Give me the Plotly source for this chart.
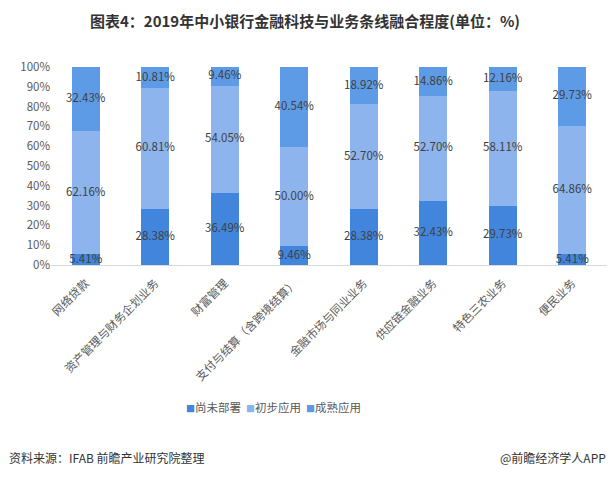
import plotly.graph_objects as go

categories = ["网络贷款", "资产管理与财务企划业务", "财富管理", "支付与结算（含跨境结算）",
              "金融市场与同业业务", "供应链金融业务", "特色三农业务", "便民业务"]
not_deployed = [5.41, 28.38, 36.49, 9.46, 28.38, 32.43, 29.73, 5.41]
initial_app = [62.16, 60.81, 54.05, 50.00, 52.70, 52.70, 58.11, 64.86]
mature_app = [32.43, 10.81, 9.46, 40.54, 18.92, 14.86, 12.16, 29.73]
series_names = ["尚未部署", "初步应用", "成熟应用"]
colors = ["#4285dc", "#8db4ec", "#5e9be6"]
yticks = [0, 10, 20, 30, 40, 50, 60, 70, 80, 90, 100]

FONT = "Noto Sans CJK SC, Microsoft YaHei, sans-serif"
W, H = 610, 478
L, R, T, B = 51, 3, 67, 213

fig = go.Figure()
series = [not_deployed, initial_app, mature_app]
for name, vals, c in zip(series_names, series, colors):
    fig.add_trace(go.Bar(x=categories, y=vals, name=name, marker_color=c,
                         marker_line_width=0, showlegend=False))

# data labels at segment midpoints
base = [0] * len(categories)
for vals in series:
    mids = [b + v / 2 for b, v in zip(base, vals)]
    fig.add_trace(go.Scatter(x=categories, y=mids, mode="text",
                             text=[f"{v:.2f}%" for v in vals],
                             textfont=dict(size=11.5, color="#404040", family=FONT),
                             showlegend=False, hoverinfo="skip"))
    base = [b + v for b, v in zip(base, vals)]

fig.update_layout(
    width=W, height=H,
    margin=dict(l=L, r=R, t=T, b=B),
    barmode="stack", bargap=0.6,
    plot_bgcolor="white", paper_bgcolor="white",
    font=dict(family=FONT, color="#595959", size=11),
    showlegend=False,
    title=dict(text="<b>图表4：2019年中小银行金融科技与业务条线融合程度(单位：%)</b>",
               x=0.5, xref="container", xanchor="center",
               y=1 - 22 / H, yref="container", yanchor="middle",
               font=dict(size=15, color="#333333", family=FONT)),
    xaxis=dict(tickangle=-45, showline=True, linecolor="#d9d9d9", linewidth=1,
               ticks="", ticklabelstandoff=6, tickfont=dict(size=11.5, color="#595959")),
    yaxis=dict(range=[0, 100], tickvals=yticks, ticktext=[f"{t}%" for t in yticks],
               showgrid=False, zeroline=False, ticks="",
               tickfont=dict(size=11.5, color="#595959")),
)

pw = W - L - R
ph = H - T - B

def px_x(x):
    return (x - L) / pw

def px_y(y):
    return (H - B - y) / ph

# compact legend (squares + labels) like the reference
leg_x = [184, 244, 304]
for name, c, x0 in zip(series_names, colors, leg_x):
    fig.add_annotation(text=f'<span style="color:{c};font-size:9px">■</span>{name}',
                       xref="paper", yref="paper", x=px_x(x0), y=px_y(407),
                       xanchor="left", yanchor="middle", showarrow=False,
                       font=dict(size=11.5, color="#595959", family=FONT))

fig.add_annotation(text="资料来源：IFAB 前瞻产业研究院整理", xref="paper", yref="paper",
                   x=px_x(7), y=px_y(457), xanchor="left", yanchor="middle",
                   showarrow=False, font=dict(size=12, color="#333333", family=FONT))
fig.add_annotation(text="@前瞻经济学人APP", xref="paper", yref="paper",
                   x=px_x(W - 2), y=px_y(457), xanchor="right", yanchor="middle",
                   showarrow=False, font=dict(size=12, color="#333333", family=FONT))

fig.write_html("out.html")
